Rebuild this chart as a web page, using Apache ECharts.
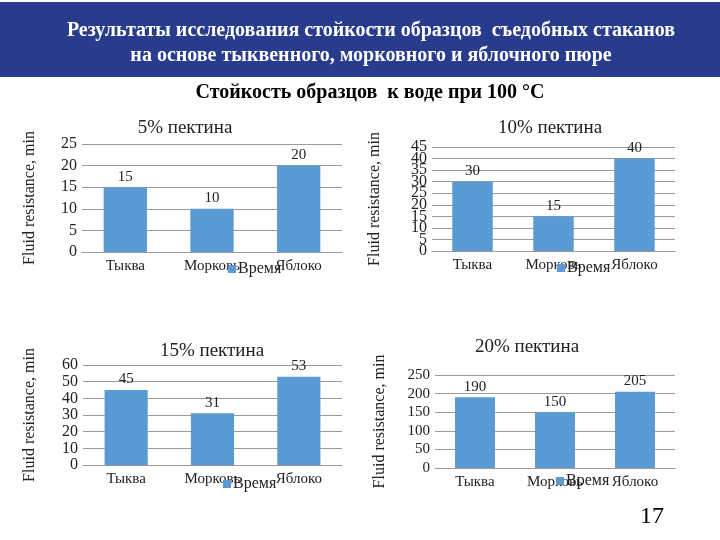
<!DOCTYPE html>
<html>
<head>
<meta charset="utf-8">
<script src="https://cdn.jsdelivr.net/npm/echarts@6/dist/echarts.min.js"></script>
<style>
  html, body { margin: 0; padding: 0; background: #fff; }
  #chart { width: 720px; height: 540px; }
</style>
</head>
<body>
<div id="chart"></div>
<script>
const serif = "'Liberation Serif', 'Times New Roman', serif"

// данные
const categories = ['Тыква', 'Морковь', 'Яблоко']
const pectin5 = [15, 10, 20]
const pectin10 = [30, 15, 40]
const pectin15 = [45, 31, 53]
const pectin20 = [190, 150, 205]
const panelTitles = ['5% пектина', '10% пектина', '15% пектина', '20% пектина']
const axisMax = [25, 45, 60, 250]
const axisStep = [5, 5, 10, 50]
const seriesName = 'Время'
const yName = 'Fluid resistance, min'

// расположение панелей
const panels = [
  { data: pectin5, left: 82, right: 378, top: 144, bottom: 288, gap: 44, tick: 16, title: [185, 128], legend: [228, 261] },
  { data: pectin10, left: 432, right: 45, top: 147, bottom: 289, gap: 49, tick: 16, title: [550, 128], legend: [557, 260] },
  { data: pectin15, left: 83, right: 378, top: 365, bottom: 75, gap: 45, tick: 16, title: [212, 351], legend: [223, 476] },
  { data: pectin20, left: 435, right: 45, top: 375, bottom: 72, gap: 47, tick: 15, title: [527, 347], legend: [556, 473] }
]
const crowded = 1 // у 10% подписи налезают друг на друга

const chart = echarts.init(document.getElementById('chart'))

const grid = panels.map(p => ({ left: p.left, right: p.right, top: p.top, bottom: p.bottom }))

const xAxis = panels.map((p, i) => ({
  type: 'category',
  gridIndex: i,
  data: categories,
  axisTick: { show: false },
  axisLine: { lineStyle: { color: '#9a9a9a' } },
  axisLabel: { color: '#222', fontFamily: serif, fontSize: 15, margin: 7 }
}))

const yAxis = panels.map((p, i) => ({
  type: 'value',
  gridIndex: i,
  min: 0,
  max: axisMax[i],
  interval: axisStep[i],
  name: yName,
  nameLocation: 'middle',
  nameRotate: 90,
  nameGap: p.gap,
  nameTextStyle: { color: '#222', fontFamily: serif, fontSize: 16 },
  axisLine: { show: false },
  axisTick: { show: false },
  axisLabel: {
    color: '#222', fontFamily: serif, fontSize: p.tick, margin: 5,
    showMinLabel: i !== crowded,
    showMaxLabel: i !== crowded
  },
  splitLine: { lineStyle: { color: '#9a9a9a' } }
}))

// крайние подписи 0 и 45 для тесной оси, иначе ECharts их прячет
yAxis.push({
  type: 'value',
  gridIndex: crowded,
  position: 'left',
  min: 0,
  max: axisMax[crowded],
  interval: axisMax[crowded],
  axisLine: { show: false },
  axisTick: { show: false },
  splitLine: { show: false },
  axisLabel: { color: '#222', fontFamily: serif, fontSize: panels[crowded].tick, margin: 5 }
})

const series = panels.map((p, i) => ({
  name: seriesName,
  type: 'bar',
  xAxisIndex: i,
  yAxisIndex: i,
  data: p.data,
  barCategoryGap: '50%',
  itemStyle: { color: '#5b9bd5' },
  label: { show: true, position: 'top', distance: 3, color: '#222', fontFamily: serif, fontSize: 15 }
}))

const legend = panels.map(p => ({
  data: [seriesName],
  left: p.legend[0],
  top: p.legend[1],
  padding: 0,
  icon: 'rect',
  itemWidth: 8,
  itemHeight: 8,
  itemGap: 0,
  selectedMode: false,
  textStyle: { color: '#222', fontFamily: serif, fontSize: 16, padding: [0, 0, 0, -3] }
}))

const graphic = [
  { type: 'rect', shape: { x: 0, y: 2, width: 720, height: 75 }, style: { fill: '#283b8c' }, z: 0 },
  { type: 'text', x: 371, y: 31, style: { text: 'Результаты исследования стойкости образцов  съедобных стаканов', fill: '#fff', font: 'bold 20px ' + serif, textAlign: 'center', textVerticalAlign: 'middle' } },
  { type: 'text', x: 371, y: 56, style: { text: 'на основе тыквенного, морковного и яблочного пюре', fill: '#fff', font: 'bold 20px ' + serif, textAlign: 'center', textVerticalAlign: 'middle' } },
  { type: 'text', x: 370, y: 93, style: { text: 'Стойкость образцов  к воде при 100 °С', fill: '#000', font: 'bold 20px ' + serif, textAlign: 'center', textVerticalAlign: 'middle' } },
  { type: 'text', x: 652, y: 517, style: { text: '17', fill: '#000', font: '24px ' + serif, textAlign: 'center', textVerticalAlign: 'middle' } }
].concat(panels.map((p, i) => ({
  type: 'text',
  x: p.title[0],
  y: p.title[1],
  style: { text: panelTitles[i], fill: '#222', font: '19px ' + serif, textAlign: 'center', textVerticalAlign: 'middle' }
})))

chart.setOption({
  animation: false,
  grid,
  xAxis,
  yAxis,
  series,
  legend,
  graphic
})
</script>
</body>
</html>
